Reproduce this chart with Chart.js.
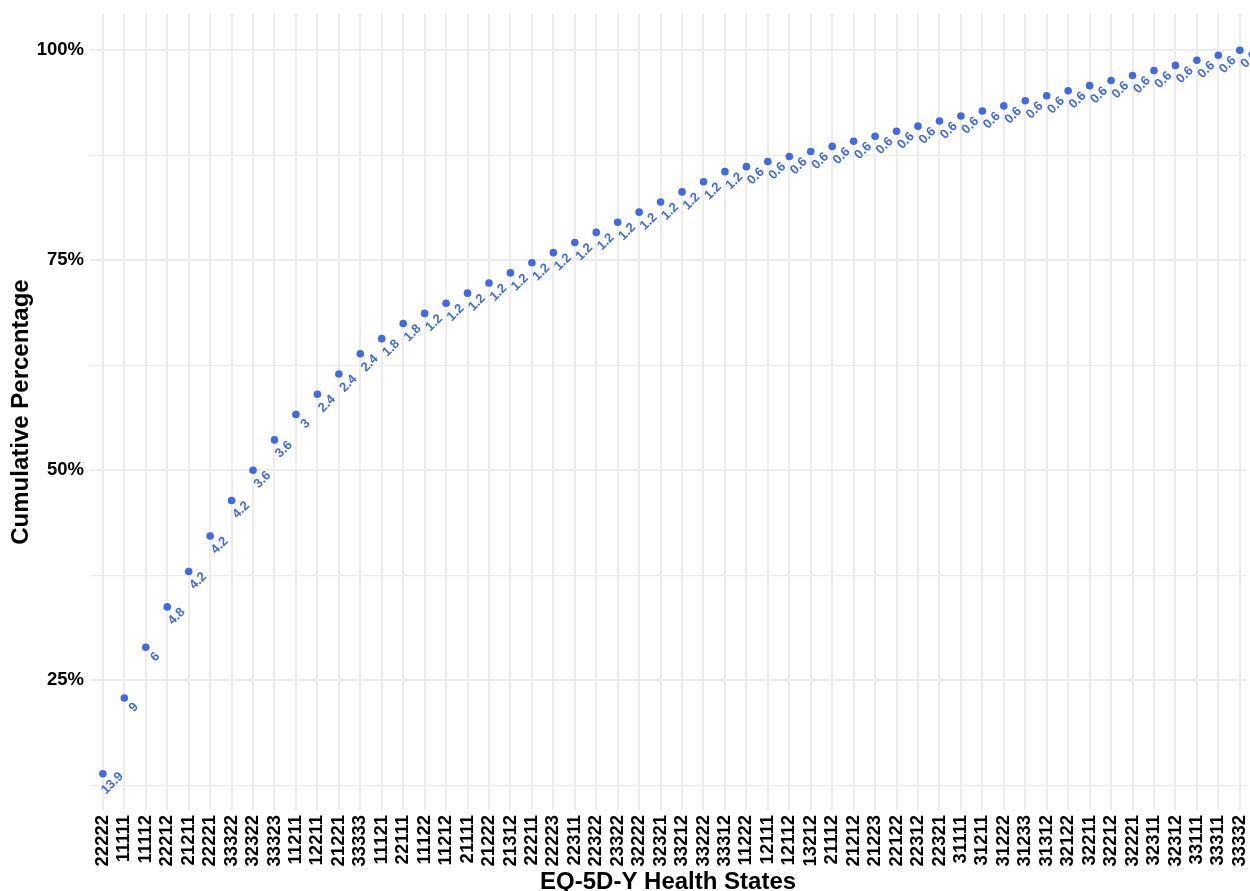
<!DOCTYPE html>
<html>
<head>
<meta charset="utf-8">
<script src="https://cdn.jsdelivr.net/npm/chart.js@4"></script>
<style>
  html, body { margin: 0; padding: 0; background: #fff; overflow: hidden; }
  #wrap { width: 1250px; height: 891px; }
</style>
</head>
<body>
<div id="wrap"><canvas id="cumChart" width="1250" height="891"></canvas></div>
<script>
// Health states in the order they appear on the x axis
const states = [
    '22222', '11111', '11112', '22212', '21211', '22221', '33322', '32322', '33323', '11211',
    '12211', '21221', '33333', '11121', '22111', '11122', '11212', '21111', '21222', '21312',
    '22211', '22223', '22311', '22322', '23322', '32222', '32321', '33212', '33222', '33312',
    '11222', '12111', '12112', '13212', '21112', '21212', '21223', '22122', '22312', '22321',
    '31111', '31211', '31222', '31233', '31312', '32122', '32211', '32212', '32221', '32311',
    '32312', '33111', '33311', '33332'
];

// Percentage shown next to each point
const pctLabels = [
    '13.9', '9', '6', '4.8', '4.2', '4.2', '4.2', '3.6', '3.6', '3',
    '2.4', '2.4', '2.4', '1.8', '1.8', '1.2', '1.2', '1.2', '1.2', '1.2',
    '1.2', '1.2', '1.2', '1.2', '1.2', '1.2', '1.2', '1.2', '1.2', '1.2',
    '0.6', '0.6', '0.6', '0.6', '0.6', '0.6', '0.6', '0.6', '0.6', '0.6',
    '0.6', '0.6', '0.6', '0.6', '0.6', '0.6', '0.6', '0.6', '0.6', '0.6',
    '0.6', '0.6', '0.6', '0.6'
];

// Cumulative percentage (y of each point)
const cumPct = [
    13.86, 22.89, 28.92, 33.73, 37.95, 42.17, 46.39, 50.00, 53.61, 56.63,
    59.04, 61.45, 63.86, 65.66, 67.47, 68.67, 69.88, 71.08, 72.29, 73.49,
    74.70, 75.90, 77.11, 78.31, 79.52, 80.72, 81.93, 83.13, 84.34, 85.54,
    86.14, 86.75, 87.35, 87.95, 88.55, 89.16, 89.76, 90.36, 90.96, 91.57,
    92.17, 92.77, 93.37, 93.98, 94.58, 95.18, 95.78, 96.39, 96.99, 97.59,
    98.19, 98.80, 99.40, 100.00
];

// y ticks: majors labelled, minors only as grid lines
const yTicks = [12.5, 25, 37.5, 50, 62.5, 75, 87.5, 100];

const BLUE = '#4169E1';
const FONT = "'Liberation Sans', Arial, Helvetica, sans-serif";

// simple point labels, rotated like the original
const pointLabels = {
    id: 'pointLabels',
    afterDatasetsDraw(chart) {
        const ctx = chart.ctx;
        const meta = chart.getDatasetMeta(0);
        ctx.save();
        ctx.fillStyle = BLUE;
        ctx.font = 'bold 13px ' + FONT;
        ctx.textAlign = 'center';
        ctx.textBaseline = 'middle';
        meta.data.forEach((pt, i) => {
            ctx.save();
            ctx.translate(pt.x + 9.5, pt.y + 9.5);
            ctx.rotate(-Math.PI / 4);
            ctx.fillText(pctLabels[i], 0, 0);
            ctx.restore();
        });
        ctx.restore();
    }
};

const points = cumPct.map((v, i) => ({ x: i, y: v }));

// no extra room for edge labels, the plot runs to the canvas border
function noPad(scale) {
    scale.paddingLeft = 0;
    scale.paddingRight = 0;
    scale.paddingTop = 0;
    scale.paddingBottom = 0;
}

new Chart(document.getElementById('cumChart'), {
    type: 'scatter',
    data: {
        datasets: [{
            data: points,
            backgroundColor: BLUE,
            borderColor: BLUE,
            borderWidth: 0,
            pointRadius: 3.8,
            pointHoverRadius: 3.8,
            showLine: false,
            clip: false
        }]
    },
    options: {
        responsive: false,
        animation: false,
        devicePixelRatio: 1,
        layout: { padding: { top: 14, right: 0, bottom: 0, left: 0 } },
        plugins: {
            legend: { display: false },
            tooltip: { enabled: false }
        },
        scales: {
            x: {
                type: 'linear',
                min: -0.6,
                max: 53.3,
                afterBuildTicks: (scale) => {
                    scale.ticks = states.map((_, i) => ({ value: i }));
                },
                afterFit: (scale) => { scale.height = 81; noPad(scale); },
                grid: { color: '#ececec', lineWidth: 2, drawTicks: false },
                border: { display: false },
                ticks: {
                    autoSkip: false,
                    minRotation: 90,
                    maxRotation: 90,
                    padding: 5,
                    color: '#000',
                    font: { family: FONT, size: 18.5, weight: 'bold' },
                    callback: (v) => states[v]
                },
                title: {
                    display: true,
                    text: 'EQ-5D-Y Health States',
                    color: '#000',
                    font: { family: FONT, size: 24, weight: 'bold', lineHeight: 0.7 },
                    padding: { top: 0, bottom: 0 }
                }
            },
            y: {
                min: 9.55,
                max: 104.31,
                afterBuildTicks: (scale) => {
                    scale.ticks = yTicks.map(v => ({ value: v }));
                },
                afterFit: (scale) => { scale.width = 90; noPad(scale); },
                grid: {
                    color: '#ececec',
                    lineWidth: (c) => (c.tick && c.tick.value % 25 === 0) ? 2 : 1.3,
                    drawTicks: false
                },
                border: { display: false },
                ticks: {
                    padding: 6,
                    color: '#000',
                    font: { family: FONT, size: 18.5, weight: 'bold' },
                    callback: (v) => (v % 25 === 0 ? v + '%' : '')
                },
                title: {
                    display: true,
                    text: 'Cumulative Percentage',
                    color: '#000',
                    font: { family: FONT, size: 24, weight: 'bold', lineHeight: 1 },
                    padding: { top: 9, bottom: 0 }
                }
            }
        }
    },
    plugins: [pointLabels]
});
</script>
</body>
</html>
